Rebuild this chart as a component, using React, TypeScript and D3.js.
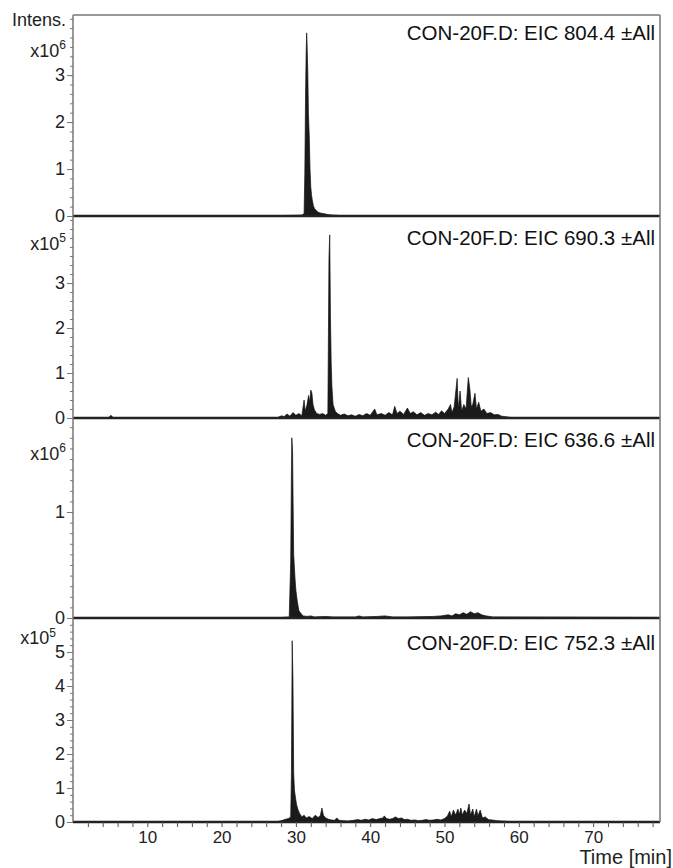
import * as d3 from "d3";
import React, { useRef, useEffect } from "react";

const width = 673;
const height = 868;
const margin = { top: 15, right: 13, left: 73 };
const panelBottoms = [216, 418, 618, 822];
const font = "'Liberation Sans', Arial, sans-serif";

// time axis
const timeDomain = [0, 79];
const timeLabels = [10, 20, 30, 40, 50, 60, 70];

// trace titles, exponents, y ranges
const titles = [
  "CON-20F.D: EIC 804.4 \u00b1All",
  "CON-20F.D: EIC 690.3 \u00b1All",
  "CON-20F.D: EIC 636.6 \u00b1All",
  "CON-20F.D: EIC 752.3 \u00b1All",
];
const exponents = [6, 5, 6, 5];
const yMaxes = [4.28, 4.49, 1.887, 6.0];
const majorTicks = [[0, 1, 2, 3], [0, 1, 2, 3], [0, 1], [0, 1, 2, 3, 4, 5]];
const minorSteps = [0.2, 0.2, 0.1, 0.2];

// [time (min), intensity (in units of 10^exponent)]
const eic804 = [
  [0, 0.01], [5, 0.01], [10, 0.005], [20, 0.005], [28, 0.01], [30, 0.015], [30.8, 0.02],
  [31.1, 0.05], [31.2, 0.9], [31.3, 2.6], [31.38, 3.5], [31.45, 3.9], [31.52, 3.57],
  [31.6, 3.06], [31.68, 2.2], [31.8, 1.68], [31.9, 1.0], [32.0, 0.62], [32.1, 0.45],
  [32.2, 0.34], [32.35, 0.22], [32.5, 0.16], [32.7, 0.12], [33.0, 0.08], [33.4, 0.06],
  [33.8, 0.05], [34.3, 0.03], [34.9, 0.02], [36, 0.01], [45, 0.01], [60, 0.005], [79, 0.005],
];

const eic690 = [
  [0, 0.01], [4.8, 0.01], [5.1, 0.06], [5.4, 0.01], [12, 0.01], [20, 0.01], [27.5, 0.01],
  [28.1, 0.05], [28.4, 0.03], [28.8, 0.09], [29.2, 0.04], [29.6, 0.12], [30.0, 0.06],
  [30.4, 0.1], [30.8, 0.05], [31.1, 0.4], [31.25, 0.15], [31.5, 0.3], [31.7, 0.5],
  [31.85, 0.35], [32.0, 0.62], [32.15, 0.55], [32.3, 0.3], [32.5, 0.18], [32.8, 0.1],
  [33.2, 0.08], [33.6, 0.1], [34.0, 0.06], [34.3, 0.1], [34.45, 3.56], [34.55, 4.07],
  [34.65, 2.24], [34.75, 1.2], [34.85, 0.69], [35.0, 0.3], [35.3, 0.15], [35.6, 0.1],
  [36.0, 0.06], [36.5, 0.09], [37.0, 0.05], [37.5, 0.07], [38.0, 0.04], [38.5, 0.08],
  [39.0, 0.05], [39.5, 0.1], [40.0, 0.06], [40.6, 0.2], [40.9, 0.07], [41.5, 0.1],
  [42.0, 0.06], [42.5, 0.12], [43.0, 0.07], [43.3, 0.26], [43.6, 0.1], [44.0, 0.15],
  [44.5, 0.08], [45.0, 0.22], [45.4, 0.1], [45.8, 0.14], [46.3, 0.07], [46.8, 0.12],
  [47.3, 0.06], [47.8, 0.1], [48.3, 0.07], [48.8, 0.13], [49.2, 0.08], [49.6, 0.16],
  [50.0, 0.1], [50.5, 0.2], [50.8, 0.3], [51.0, 0.12], [51.3, 0.25], [51.7, 0.88],
  [51.85, 0.2], [52.1, 0.6], [52.3, 0.15], [52.6, 0.3], [52.9, 0.2], [53.2, 0.9],
  [53.4, 0.66], [53.6, 0.25], [53.8, 0.3], [54.1, 0.55], [54.3, 0.2], [54.6, 0.35],
  [54.9, 0.15], [55.3, 0.2], [55.7, 0.1], [56.2, 0.12], [56.7, 0.07], [57.2, 0.08],
  [57.7, 0.04], [58.2, 0.03], [59, 0.01], [70, 0.01], [79, 0.01],
];

const eic636 = [
  [0, 0.005], [28, 0.005], [29.1, 0.01], [29.3, 0.53], [29.4, 1.4], [29.45, 1.7],
  [29.55, 1.58], [29.62, 1.1], [29.7, 0.6], [29.8, 0.47], [29.9, 0.35], [30.0, 0.26],
  [30.2, 0.15], [30.4, 0.07], [30.7, 0.04], [31.0, 0.02], [31.5, 0.015], [32, 0.02],
  [32.5, 0.01], [34, 0.015], [35, 0.01], [38, 0.01], [38.5, 0.02], [39, 0.01],
  [41, 0.015], [42, 0.02], [43, 0.01], [45, 0.01], [48.5, 0.015], [49.5, 0.02],
  [50.5, 0.03], [51.0, 0.02], [51.5, 0.04], [52.0, 0.03], [52.5, 0.05], [53.0, 0.035],
  [53.5, 0.06], [54.0, 0.04], [54.5, 0.05], [55.0, 0.03], [55.6, 0.02], [56.5, 0.01],
  [79, 0.005],
];

const eic752 = [
  [0, 0.01], [27.5, 0.01], [28.2, 0.05], [28.6, 0.08], [29.0, 0.1], [29.3, 0.15],
  [29.4, 1.44], [29.5, 5.33], [29.6, 4.2], [29.7, 1.44], [29.8, 0.94], [29.95, 0.7],
  [30.1, 0.5], [30.3, 0.35], [30.5, 0.25], [30.8, 0.15], [31.1, 0.2], [31.4, 0.12],
  [31.8, 0.16], [32.2, 0.1], [32.6, 0.2], [33.0, 0.13], [33.3, 0.2], [33.5, 0.41],
  [33.7, 0.2], [34.0, 0.12], [34.4, 0.08], [34.8, 0.06], [35.2, 0.05], [35.5, 0.12],
  [35.8, 0.05], [36.3, 0.04], [37, 0.03], [37.8, 0.05], [38.3, 0.07], [38.8, 0.05],
  [39.3, 0.08], [39.8, 0.06], [40.3, 0.1], [40.8, 0.07], [41.3, 0.1], [41.7, 0.12],
  [41.9, 0.18], [42.2, 0.1], [42.6, 0.08], [43.0, 0.1], [43.4, 0.15], [43.8, 0.1],
  [44.2, 0.12], [44.6, 0.07], [45.0, 0.08], [45.5, 0.05], [46.0, 0.06], [46.5, 0.04],
  [47.0, 0.05], [47.5, 0.07], [48.0, 0.05], [48.5, 0.06], [49.0, 0.08], [49.5, 0.06],
  [50.0, 0.1], [50.4, 0.18], [50.7, 0.32], [50.9, 0.15], [51.2, 0.35], [51.5, 0.2],
  [51.8, 0.38], [52.0, 0.22], [52.2, 0.41], [52.4, 0.2], [52.7, 0.35], [53.0, 0.25],
  [53.3, 0.53], [53.5, 0.2], [53.8, 0.38], [54.0, 0.15], [54.3, 0.38], [54.5, 0.18],
  [54.8, 0.35], [55.1, 0.12], [55.5, 0.15], [55.9, 0.07], [56.4, 0.06], [57.0, 0.04],
  [57.6, 0.03], [58.4, 0.02], [59, 0.01], [79, 0.01],
];

const traces = [eic804, eic690, eic636, eic752];
// placement of the "x10^n" label under each panel top
const expOffsets = [35, 27, 35, 19];
const expShifts = [0, 0, 0, -10];
const expRises = [-8, -8, -8, -7];
const titleOffsets = [25, 29, 29, 32];

const EICChart = () => {
  const ref = useRef(null);

  useEffect(() => {
    if (!ref.current) return;
    const svg = d3.select(ref.current);
    svg.selectAll("*").remove();

    const x = d3.scaleLinear()
      .domain(timeDomain)
      .range([margin.left, width - margin.right]);

    const tops = [margin.top, ...panelBottoms.slice(0, 3)];

    traces.forEach((trace, i) => {
      const top = tops[i];
      const bottom = panelBottoms[i];
      const y = d3.scaleLinear().domain([0, yMaxes[i]]).range([bottom, top]);
      const g = svg.append("g");

      const area = d3.area()
        .x(d => x(d[0]))
        .y0(y(0))
        .y1(d => y(d[1]));

      g.append("path")
        .datum(trace)
        .attr("d", area)
        .attr("fill", "#1a1a1a")
        .attr("stroke", "#111")
        .attr("stroke-width", 0.7);

      // baseline
      g.append("line")
        .attr("x1", x(timeDomain[0])).attr("x2", x(timeDomain[1]))
        .attr("y1", y(0)).attr("y2", y(0))
        .attr("stroke", "#222")
        .attr("stroke-width", 2.4);

      // minor ticks
      g.append("g")
        .attr("transform", `translate(${margin.left},0)`)
        .call(d3.axisLeft(y).tickValues(d3.range(0, yMaxes[i], minorSteps[i])).tickSize(3).tickFormat(() => ""))
        .call(a => a.select(".domain").remove())
        .call(a => a.selectAll("line").attr("stroke", "#777"));

      // major ticks
      g.append("g")
        .attr("transform", `translate(${margin.left},0)`)
        .call(d3.axisLeft(y).tickValues(majorTicks[i]).tickSize(6).tickPadding(2).tickFormat(d3.format("d")))
        .call(a => a.select(".domain").remove())
        .call(a => a.selectAll("line").attr("stroke", "#777"))
        .call(a => a.selectAll("text")
          .attr("font-family", font)
          .attr("font-size", 18)
          .attr("fill", "#222"));

      // exponent label
      const expText = g.append("text")
        .attr("x", margin.left - 7 + expShifts[i])
        .attr("y", top + expOffsets[i] + 7)
        .attr("text-anchor", "end")
        .attr("font-family", font)
        .attr("font-size", 18)
        .attr("fill", "#222");
      expText.append("tspan").text("x10");
      expText.append("tspan").text(exponents[i])
        .attr("font-size", 12)
        .attr("dy", expRises[i]);

      // title
      g.append("text")
        .attr("x", width - margin.right - 5)
        .attr("y", top + titleOffsets[i])
        .attr("text-anchor", "end")
        .attr("font-family", font)
        .attr("font-size", 20.5)
        .attr("fill", "#111")
        .text(titles[i]);
    });

    // frame: left axis, top, right
    svg.append("line")
      .attr("x1", margin.left).attr("x2", margin.left)
      .attr("y1", margin.top).attr("y2", panelBottoms[3])
      .attr("stroke", "#777").attr("stroke-width", 1.5);
    svg.append("line")
      .attr("x1", margin.left).attr("x2", width - margin.right)
      .attr("y1", margin.top).attr("y2", margin.top)
      .attr("stroke", "#777").attr("stroke-width", 1.5);
    svg.append("line")
      .attr("x1", width - margin.right).attr("x2", width - margin.right)
      .attr("y1", margin.top).attr("y2", panelBottoms[3])
      .attr("stroke", "#777").attr("stroke-width", 1.5);

    // time axis
    svg.append("g")
      .attr("transform", `translate(0,${panelBottoms[3]})`)
      .call(d3.axisBottom(x)
        .tickValues(d3.range(2, timeDomain[1], 2))
        .tickSize(5)
        .tickPadding(4)
        .tickFormat(d => (timeLabels.includes(d) ? String(d) : "")))
      .call(a => a.select(".domain").remove())
      .call(a => a.selectAll("line").attr("stroke", "#555"))
      .call(a => a.selectAll("text")
        .attr("font-family", font)
        .attr("font-size", 17)
        .attr("fill", "#222"));

    svg.append("text")
      .attr("x", width - 1)
      .attr("y", 864)
      .attr("text-anchor", "end")
      .attr("font-family", font)
      .attr("font-size", 20)
      .attr("fill", "#222")
      .text("Time [min]");

    svg.append("text")
      .attr("x", margin.left - 7)
      .attr("y", 26)
      .attr("text-anchor", "end")
      .attr("font-family", font)
      .attr("font-size", 18)
      .attr("fill", "#222")
      .text("Intens.");
  }, []);

  return (
    <svg
      ref={ref}
      width={width}
      height={height}
      style={{ position: "absolute", left: 0, top: 0, background: "#fff" }}
    />
  );
};

export default function App() {
  return <EICChart />;
}
